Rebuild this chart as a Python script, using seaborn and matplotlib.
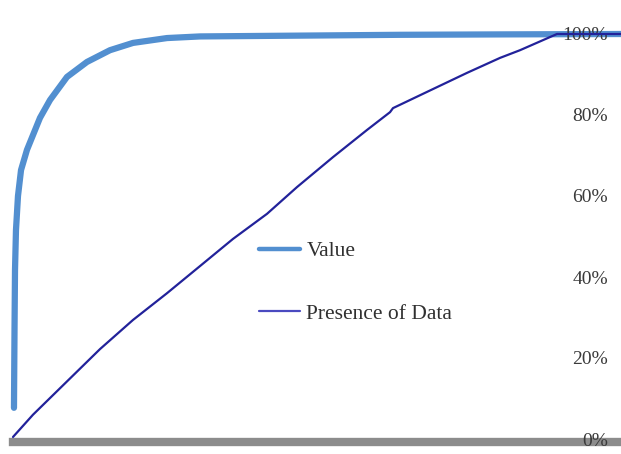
import matplotlib
matplotlib.use("Agg")
import matplotlib.pyplot as plt
import seaborn as sns
import pandas as pd

# Share of records (x) against cumulative share (y), both in percent
value_x = [0.16, 0.25, 0.33, 0.49, 0.82, 1.32, 2.30, 4.44, 6.09, 8.88, 12.17,
           15.95, 19.74, 25.33, 30.76, 47.2, 63.65, 80.1, 100.0]
value_y = [7.7, 27.0, 41.7, 51.6, 60.0, 66.4, 71.4, 79.3, 83.7, 89.4, 93.1,
           96.0, 97.8, 99.0, 99.4, 99.6, 99.8, 99.9, 100.0]

presence_x = [0.0, 3.29, 14.31, 19.74, 25.33, 30.76, 36.18, 41.78, 46.71,
              52.63, 58.22, 62.01, 62.5, 68.09, 74.67, 80.1, 83.39, 89.47, 100.0]
presence_y = [0.5, 6.0, 22.2, 29.4, 36.0, 42.7, 49.4, 55.6, 62.2,
              69.6, 76.3, 80.7, 81.7, 85.7, 90.4, 94.1, 96.0, 100.0, 100.0]

tick_values = [0, 20, 40, 60, 80, 100]
tick_labels = ["0%", "20%", "40%", "60%", "80%", "100%"]

sns.set_style("white")
plt.rcParams["font.family"] = ["Liberation Serif", "DejaVu Serif"]

fig = plt.figure(figsize=(6.21, 4.54), dpi=100)
ax = fig.add_axes([13 / 621, 15 / 454, 608 / 621, 405 / 454])

value_df = pd.DataFrame({"x": value_x, "y": value_y})
presence_df = pd.DataFrame({"x": presence_x, "y": presence_y})

sns.lineplot(data=value_df, x="x", y="y", ax=ax, color="#528fd0", lw=4.5,
             label="Value", clip_on=False, zorder=2)
sns.lineplot(data=presence_df, x="x", y="y", ax=ax, color="#22229a", lw=1.6,
             label="Presence of Data", clip_on=False, zorder=3)

ax.set_xlim(0, 100)
ax.set_ylim(0, 100)
ax.set_xlabel("")
ax.set_ylabel("")
ax.set_xticks([])
ax.yaxis.tick_right()
ax.set_yticks(tick_values)
ax.set_yticklabels(tick_labels)
ax.tick_params(axis="y", length=0, pad=-9.4, labelsize=14, labelcolor="#3a3a3a")
for lab in ax.get_yticklabels():
    lab.set_horizontalalignment("right")
ax.set_axisbelow(False)
for name, side in ax.spines.items():
    side.set_visible(name == "bottom")
# Thick grey baseline under the 0% level
ax.spines["bottom"].set_color("#8c8c8c")
ax.spines["bottom"].set_linewidth(6)
ax.spines["bottom"].set_position(("outward", 2.5))
ax.patch.set_alpha(0)

leg = ax.legend(loc="upper left", bbox_to_anchor=(259 / 621, (454 - 241) / 454),
                bbox_transform=fig.transFigure, frameon=False, fontsize=15.5,
                handlelength=1.9, handletextpad=0.3, labelspacing=1.98,
                borderpad=0, borderaxespad=0)
for t in leg.get_texts():
    t.set_color("#303030")
leg.get_lines()[0].set_linewidth(3.2)
leg.get_lines()[1].set_linewidth(1.6)
leg.get_lines()[1].set_color("#4a4ac0")

fig.savefig("out.png", dpi=100)
